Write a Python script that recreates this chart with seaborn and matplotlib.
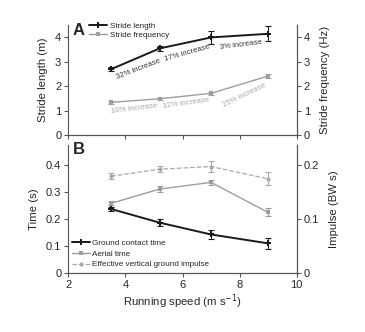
import matplotlib
matplotlib.use("Agg")
import matplotlib.pyplot as plt
import matplotlib.ticker as mticker
import seaborn as sns
import pandas as pd

speed = [3.5, 5.2, 7.0, 9.0]
stride_length = [2.70, 3.55, 4.00, 4.15]
stride_length_err = [0.08, 0.12, 0.26, 0.30]
stride_freq = [1.34, 1.49, 1.71, 2.42]
stride_freq_err = [0.05, 0.05, 0.06, 0.07]
contact_time = [0.238, 0.187, 0.143, 0.110]
contact_err = [0.008, 0.014, 0.016, 0.020]
aerial_time = [0.259, 0.312, 0.337, 0.225]
aerial_err = [0.008, 0.010, 0.010, 0.015]
impulse = [0.180, 0.193, 0.198, 0.175]
impulse_err = [0.005, 0.006, 0.010, 0.012]
len_labels = ["32% increase", "17% increase", "3% increase"]
freq_labels = ["10% increase", "12% increase", "25% increase"]
len_label_pos = [(4.45, 2.70, 21), (6.18, 3.36, 16), (8.06, 3.70, 7)]
freq_label_pos = [(4.30, 1.07, 7), (6.11, 1.30, 8), (8.16, 1.64, 26)]

sns.set_style("ticks")
plt.rcParams['font.family'] = ['Liberation Sans', 'DejaVu Sans']

BLACK = "#1a1a1a"
GRAY = "#9e9e9e"
LGRAY = "#a8a8a8"
SPINE = "#555555"
LBL = 8.2
TCK = 8.0
ANN = 5.6

fig = plt.figure(figsize=(3.65, 3.32), dpi=100)
axA = fig.add_axes([0.187, 0.593, 0.626, 0.331])
axB = fig.add_axes([0.187, 0.178, 0.626, 0.386])

df = pd.DataFrame({"speed": speed, "sl": stride_length, "sf": stride_freq,
                   "ct": contact_time, "at": aerial_time, "imp": impulse})

# Panel A
axA2 = axA.twinx()
sns.lineplot(data=df, x="speed", y="sl", ax=axA, color=BLACK, lw=1.4,
             marker="P", markersize=4, markeredgewidth=0, legend=False)
h_sl = axA.lines[-1]
axA.errorbar(speed, stride_length, yerr=stride_length_err, fmt="none",
             ecolor=BLACK, elinewidth=0.8, capsize=2, capthick=0.8)
sns.lineplot(data=df, x="speed", y="sf", ax=axA2, color=GRAY, lw=1.0,
             marker="s", markersize=3.5, markeredgewidth=0, legend=False)
h_sf = axA2.lines[-1]
axA2.errorbar(speed, stride_freq, yerr=stride_freq_err, fmt="none",
              ecolor=GRAY, elinewidth=0.8, capsize=2, capthick=0.8)
for ax in (axA, axA2):
    ax.set_xlim(2, 10)
    ax.set_ylim(0, 4.5)
    ax.set_yticks([0, 1, 2, 3, 4])
axA.set_xticks([2, 4, 6, 8, 10])
axA.set_xticklabels([])
axA.set_xlabel("")
axA.set_ylabel("Stride length (m)", fontsize=LBL, labelpad=5)
axA2.set_ylabel("Stride frequency (Hz)", fontsize=LBL, labelpad=7)
for t, (x, y, r) in zip(len_labels, len_label_pos):
    axA.text(x, y, t, fontsize=ANN, color="#333333", rotation=r,
             ha="center", va="center", rotation_mode="anchor")
for t, (x, y, r) in zip(freq_labels, freq_label_pos):
    axA.text(x, y, t, fontsize=ANN, color=LGRAY, rotation=r,
             ha="center", va="center", rotation_mode="anchor")
axA.text(0.02, 1.02, "A", transform=axA.transAxes, fontsize=12, fontweight="bold",
         va="top", ha="left")
axA.legend([h_sl, h_sf], ["Stride length", "Stride frequency"], loc="upper left",
           bbox_to_anchor=(0.065, 1.08), fontsize=5.9, frameon=False,
           handlelength=2.2, handletextpad=0.4, labelspacing=0.2, borderpad=0.2)

# Panel B
axB2 = axB.twinx()
sns.lineplot(data=df, x="speed", y="ct", ax=axB, color=BLACK, lw=1.4,
             marker="P", markersize=4, markeredgewidth=0, legend=False)
h_ct = axB.lines[-1]
axB.errorbar(speed, contact_time, yerr=contact_err, fmt="none",
             ecolor=BLACK, elinewidth=0.8, capsize=2, capthick=0.8)
sns.lineplot(data=df, x="speed", y="at", ax=axB, color=GRAY, lw=1.0,
             marker="s", markersize=3.5, markeredgewidth=0, legend=False)
h_at = axB.lines[-1]
axB.errorbar(speed, aerial_time, yerr=aerial_err, fmt="none",
             ecolor=GRAY, elinewidth=0.8, capsize=2, capthick=0.8)
sns.lineplot(data=df, x="speed", y="imp", ax=axB2, color=LGRAY, lw=0.9,
             linestyle="--", marker="o", markersize=3, markeredgewidth=0, legend=False)
h_imp = axB2.lines[-1]
axB2.errorbar(speed, impulse, yerr=impulse_err, fmt="none",
              ecolor=LGRAY, elinewidth=0.8, capsize=2, capthick=0.8)
axB.set_xlim(2, 10)
axB2.set_xlim(2, 10)
axB.set_ylim(0, 0.477)
axB2.set_ylim(0, 0.2385)
axB.set_yticks([0, 0.1, 0.2, 0.3, 0.4])
axB2.set_yticks([0, 0.1, 0.2])
fmt = mticker.FuncFormatter(lambda v, p: "0" if abs(v) < 1e-9 else f"{v:g}")
axB.yaxis.set_major_formatter(fmt)
axB2.yaxis.set_major_formatter(fmt)
axB.set_xticks([2, 4, 6, 8, 10])
axB.set_xlabel("Running speed (m s$^{-1}$)", fontsize=LBL, labelpad=2)
axB.set_ylabel("Time (s)", fontsize=LBL, labelpad=5)
axB2.set_ylabel("Impulse (BW s)", fontsize=LBL, labelpad=7)
axB.text(0.02, 1.02, "B", transform=axB.transAxes, fontsize=12, fontweight="bold",
         va="top", ha="left")
axB.legend([h_ct, h_at, h_imp],
           ["Ground contact time", "Aerial time", "Effective vertical ground impulse"],
           loc="lower left", bbox_to_anchor=(-0.01, -0.01), fontsize=5.9, frameon=False,
           handlelength=2.2, handletextpad=0.3, labelspacing=0.35, borderpad=0.2)

for ax in (axA, axA2, axB, axB2):
    ax.spines["top"].set_visible(False)
    ax.spines["left"].set_visible(True)
    ax.spines["right"].set_visible(True)
    for s in ax.spines.values():
        s.set_color(SPINE)
        s.set_linewidth(0.8)
    ax.tick_params(labelsize=TCK, length=3, width=0.8, color=SPINE, pad=2)
axA2.spines["left"].set_visible(False)
axB2.spines["left"].set_visible(False)

fig.savefig("out.png", dpi=100)
